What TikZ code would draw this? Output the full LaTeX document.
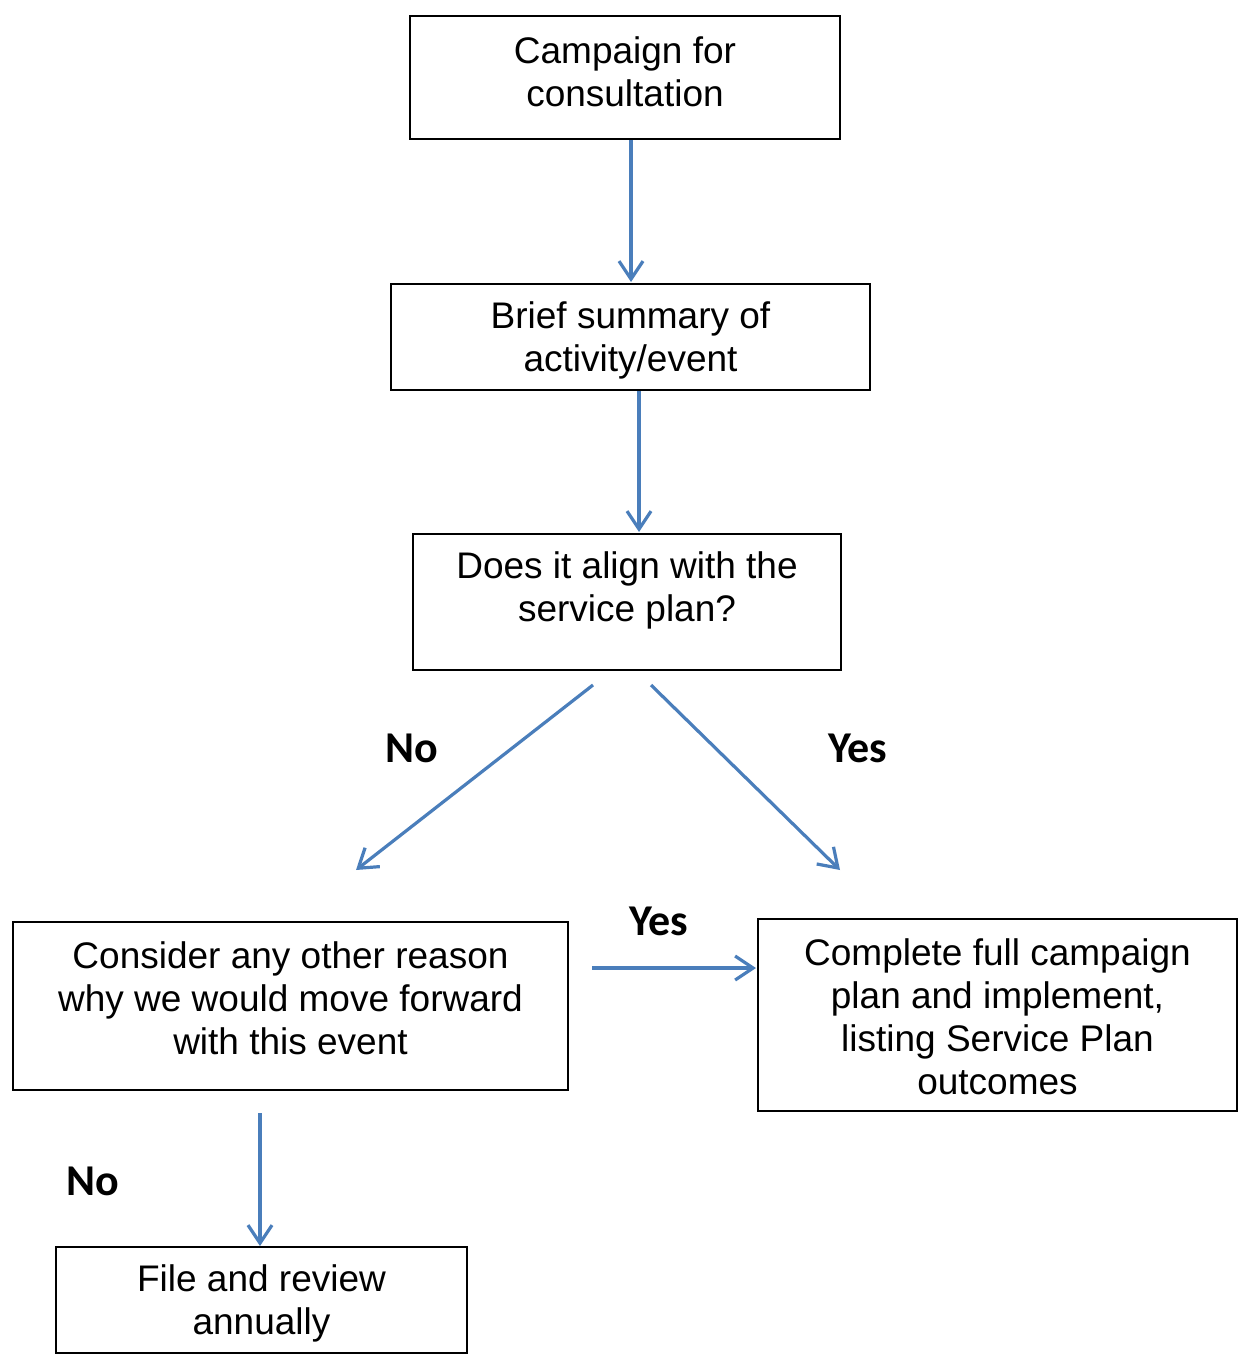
\documentclass[tikz,border=0pt]{standalone}
\usepackage{fontspec}
\setmainfont{Liberation Sans}
\newfontfamily\labelfont{Carlito}
\usetikzlibrary{arrows.meta}
\definecolor{flowblue}{HTML}{4A7EBB}
\tikzset{
  stepbox/.style={draw=black, line width=1pt, rectangle, inner sep=0pt},
  boxtext/.style={align=center, font=\fontsize{18.5}{21.5}\selectfont, inner sep=0pt},
  flow/.style={draw=flowblue, line width=1.6pt,
    -{Straight Barb[length=9pt, width=12pt, line width=1.6pt]}},
  answer/.style={font=\labelfont\bfseries\fontsize{22}{24}\selectfont, inner sep=0pt}
}
\begin{document}
\begin{tikzpicture}[x=0.5pt, y=-0.5pt]
  \useasboundingbox (0,0) rectangle (1240,1359);

  % boxes (sizes in px units)
  \node[stepbox, minimum width=215pt, minimum height=61.5pt] (campaign) at (625,77.5) {};
  \node[boxtext] (campaigntxt) at (625,72) {Campaign for\\consultation};

  \node[stepbox, minimum width=239.5pt, minimum height=53pt] (brief) at (630.5,337) {};
  \node[boxtext] (brieftxt) at (630.5,340) {Brief summary of\\activity/event};

  \node[stepbox, minimum width=214pt, minimum height=68pt] (align) at (627,602) {};
  \node[boxtext] (aligntxt) at (627,590) {Does it align with the\\service plan?};

  \node[stepbox, minimum width=277.5pt, minimum height=84pt] (consider) at (290.5,1006) {};
  \node[boxtext] (considertxt) at (290.5,998) {Consider any other reason\\why we would move forward\\with this event};

  \node[stepbox, minimum width=239.5pt, minimum height=96pt] (complete) at (997.5,1015) {};
  \node[boxtext] (completetxt) at (997.5,1017) {Complete full campaign\\plan and implement,\\listing Service Plan\\outcomes};

  \node[stepbox, minimum width=205.5pt, minimum height=53pt] (file) at (261.5,1300) {};
  \node[boxtext] (filetxt) at (261.5,1303) {File and review\\annually};

  % free ends of the connectors
  \coordinate (c1s) at (631,140);   \coordinate (c1e) at (631,282);
  \coordinate (c2s) at (639,391);   \coordinate (c2e) at (639,532);
  \coordinate (nos) at (593,685);   \coordinate (noe) at (356,870);
  \coordinate (yess) at (651,685);  \coordinate (yese) at (840,870);
  \coordinate (ys2s) at (592,968);  \coordinate (ys2e) at (756,968);
  \coordinate (no2s) at (260,1113); \coordinate (no2e) at (260,1246);

  \draw[flow] (c1s) -- (c1e);
  \draw[flow] (c2s) -- (c2e);
  \draw[flow] (nos) -- (noe);
  \draw[flow] (yess) -- (yese);
  \draw[flow] (ys2s) -- (ys2e);
  \draw[flow] (no2s) -- (no2e);

  % answer labels
  \node[answer] (lno1) at (412,748) {No};
  \node[answer] (lyes1) at (858,748) {Yes};
  \node[answer] (lyes2) at (659,921) {Yes};
  \node[answer] (lno2) at (93,1181) {No};
\end{tikzpicture}
\end{document}
